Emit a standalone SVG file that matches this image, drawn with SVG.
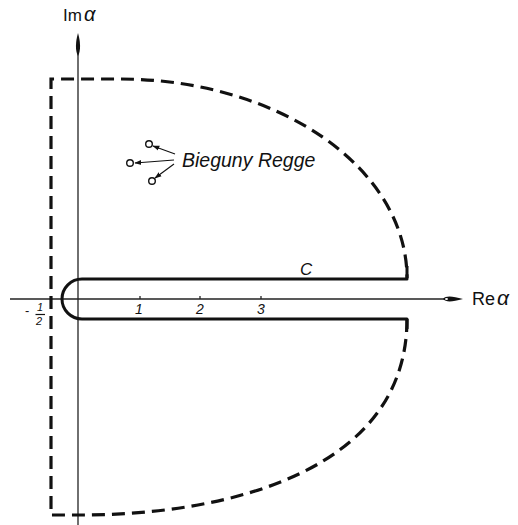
<svg xmlns="http://www.w3.org/2000/svg" width="518" height="525" viewBox="0 0 518 525">
<defs>
<style>
.axis{stroke:#222;stroke-width:1.3;fill:none}
.dash{stroke:#111;stroke-width:3.2;fill:none;stroke-dasharray:13 7;stroke-linejoin:miter}
.contour{stroke:#111;stroke-width:3;fill:none;stroke-linejoin:round}
.lbl{font-family:"Liberation Sans",Arial,sans-serif;fill:#111}
.it{font-style:italic}
.pole{stroke:#111;stroke-width:1.4;fill:#fff}
.ptr{stroke:#111;stroke-width:1.1;fill:none}
</style>
<marker id="ah" viewBox="0 0 10 10" refX="9" refY="5" markerWidth="7" markerHeight="7" orient="auto" markerUnits="userSpaceOnUse">
<path d="M0,1.5 L10,5 L0,8.5 z" fill="#111"/>
</marker>
</defs>
<rect width="518" height="525" fill="#fff"/>
<g id="connectors">
<g id="re-axis">
<line class="axis" x1="10" y1="299" x2="450" y2="299"/>
<path d="M443,299 C446,295.5 452,296 463,299 C452,302 446,302.5 443,299 z" fill="#111"/>
<ellipse cx="446.5" cy="299" rx="1.5" ry="1" fill="#fff"/>
</g>
<g id="im-axis">
<line class="axis" x1="78" y1="50" x2="78" y2="525"/>
<path d="M78,33 C80.5,42 81,50 78,56 C75,50 75.5,42 78,33 z" fill="#111"/>
</g>
<g id="ticks">
<line class="axis" x1="140" y1="296" x2="140" y2="299"/>
<line class="axis" x1="200" y1="296" x2="200" y2="299"/>
<line class="axis" x1="261" y1="296" x2="261" y2="299"/>
</g>
<g id="pole-pointers">
<line class="ptr" x1="175" y1="154" x2="153" y2="146" marker-end="url(#ah)"/>
<line class="ptr" x1="174" y1="160" x2="135" y2="163" marker-end="url(#ah)"/>
<line class="ptr" x1="174" y1="164" x2="155" y2="178" marker-end="url(#ah)"/>
</g>
</g>
<g id="big-contour">
<path class="dash" d="M407,319 C407,470 230,515 80,515 H51 V79 H120 A287,199 0 0 1 407,278"/>
</g>
<g id="contour-C">
<path class="contour" d="M407,266 V279 H82 A20,20 0 0 0 82,319 H407 V329"/>
<text class="lbl it" x="300" y="275" font-size="17">C</text>
</g>
<g id="poles">
<circle class="pole" cx="149" cy="144" r="3.3"/>
<circle class="pole" cx="130" cy="163" r="3.3"/>
<circle class="pole" cx="152" cy="181" r="3.3"/>
<text class="lbl it" x="182" y="167" font-size="19.5">Bieguny Regge</text>
</g>
<g id="labels">
<text class="lbl" x="63" y="21" font-size="17">Im<tspan font-style="italic" font-size="20" dx="2">α</tspan></text>
<text class="lbl" x="472" y="305" font-size="18">Re<tspan font-style="italic" font-size="21" dx="2">α</tspan></text>
<text class="lbl it" x="135" y="314" font-size="14">1</text>
<text class="lbl it" x="196" y="314" font-size="14">2</text>
<text class="lbl it" x="257" y="314" font-size="14">3</text>
<text class="lbl" x="25" y="315" font-size="13">-</text>
<text class="lbl it" x="37" y="311" font-size="11">1</text>
<line x1="35.5" y1="314.5" x2="45" y2="314.5" stroke="#111" stroke-width="1.2"/>
<text class="lbl it" x="36" y="325" font-size="11">2</text>
</g>
</svg>
